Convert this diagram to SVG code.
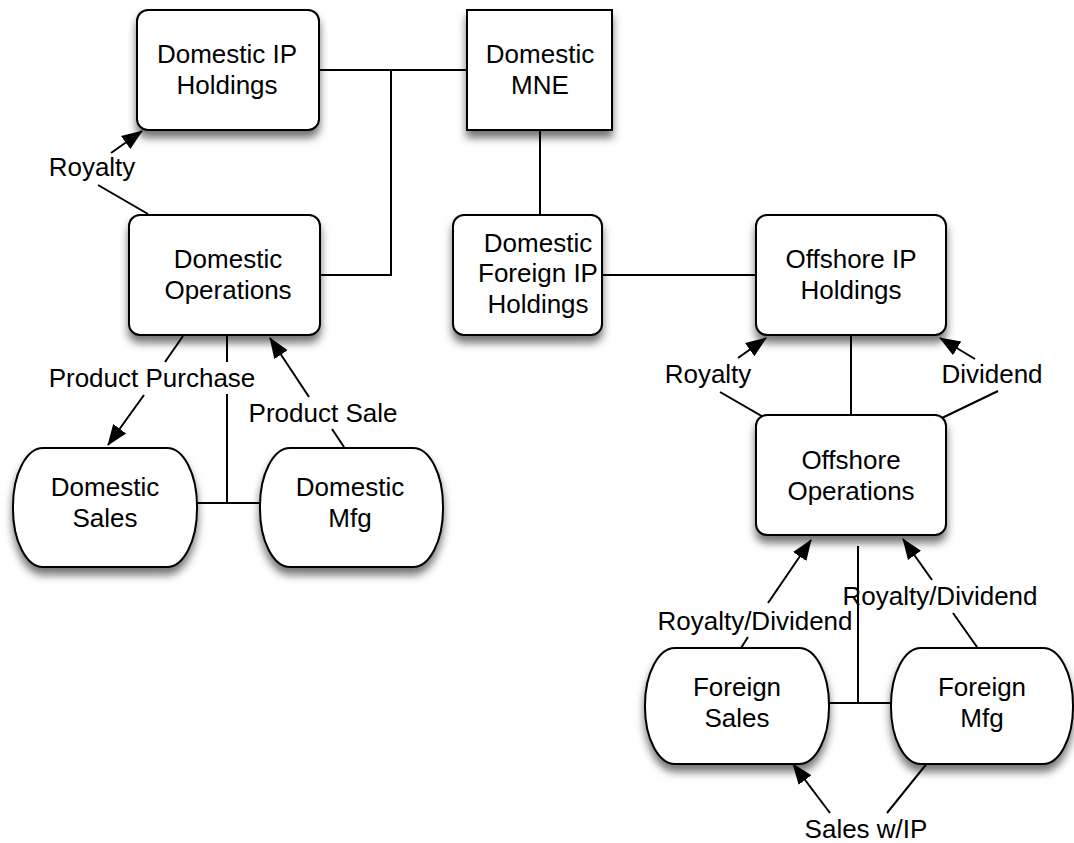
<svg xmlns="http://www.w3.org/2000/svg" width="1074" height="843" viewBox="0 0 1074 843">
  <style>
    .box { fill: #ffffff; stroke: #000000; stroke-width: 2; filter: url(#shadow); }
    .lbl { font-family: "Liberation Sans", Arial, sans-serif; font-size: 26px; fill: #000000; text-anchor: middle; }
    .wire { fill: none; stroke: #000000; stroke-width: 2; }
    .arrow { fill: none; stroke: #000000; stroke-width: 2; marker-end: url(#head); }
  </style>
  <defs>
    <filter id="shadow" x="-20%" y="-20%" width="140%" height="150%">
      <feDropShadow dx="0" dy="7" stdDeviation="4" flood-color="#000000" flood-opacity="0.55"/>
    </filter>
    <marker id="head" markerUnits="userSpaceOnUse" markerWidth="22" markerHeight="18" refX="20" refY="9" orient="auto">
      <path d="M0,1 L21,9 L0,17 Z" fill="#000000"/>
    </marker>
  </defs>
  <rect width="1074" height="843" fill="#ffffff"/>

  <!-- connectors -->
  <g id="connectors">
    <!-- ownership tree -->
    <path class="wire" d="M320,70 H467"/>
    <path class="wire" d="M391,70 V275 H320"/>
    <path class="wire" d="M540,130 V215"/>
    <path class="wire" d="M602,275 H756"/>
    <path class="wire" d="M851,335 V415"/>
    <path class="wire" d="M227,336 V362"/>
    <path class="wire" d="M227,394 V503"/>
    <path class="wire" d="M197,503 H260"/>
    <path class="wire" d="M858,546 V703"/>
    <path class="wire" d="M829,703 H891"/>

    <!-- domestic flows -->
    <path class="wire" d="M148,214 L98,185"/>
    <path class="arrow" d="M111,153 L142,131"/>
    <path class="wire" d="M183,336 L165,362"/>
    <path class="arrow" d="M144,395 L108,445"/>
    <path class="wire" d="M344,447 L332,429"/>
    <path class="arrow" d="M309,397 L270,338"/>

    <!-- offshore flows -->
    <path class="wire" d="M765,418 L720,392"/>
    <path class="arrow" d="M738,358 L766,338"/>
    <path class="wire" d="M942,418 L998,391"/>
    <path class="arrow" d="M975,359 L940,338"/>
    <path class="wire" d="M741,648 L748,637"/>
    <path class="arrow" d="M768,603 L811,540"/>
    <path class="wire" d="M977,647 L953,613"/>
    <path class="arrow" d="M932,580 L903,539"/>
    <path class="wire" d="M928,762 L887,813"/>
    <path class="arrow" d="M830,813 L793,764"/>
  </g>

  <!-- flow labels -->
  <g id="labels">
    <text class="lbl" x="92" y="176">Royalty</text>
    <text class="lbl" x="152" y="387">Product Purchase</text>
    <text class="lbl" x="323" y="422">Product Sale</text>
    <text class="lbl" x="708" y="383">Royalty</text>
    <text class="lbl" x="992" y="383">Dividend</text>
    <text class="lbl" x="755" y="630">Royalty/Dividend</text>
    <text class="lbl" x="940" y="605">Royalty/Dividend</text>
    <text class="lbl" x="866" y="838">Sales w/IP</text>
  </g>

  <g id="domestic-ip-holdings">
    <rect class="box" x="137" y="10" width="182" height="120" rx="11"/>
    <text class="lbl" x="227" y="63">Domestic IP</text>
    <text class="lbl" x="227" y="94">Holdings</text>
  </g>
  <g id="domestic-mne">
    <rect class="box" x="467" y="10" width="145" height="120"/>
    <text class="lbl" x="540" y="63">Domestic</text>
    <text class="lbl" x="540" y="94">MNE</text>
  </g>
  <g id="domestic-operations">
    <rect class="box" x="129" y="215" width="191" height="120" rx="11"/>
    <text class="lbl" x="228" y="268">Domestic</text>
    <text class="lbl" x="228" y="299">Operations</text>
  </g>
  <g id="domestic-foreign-ip-holdings">
    <rect class="box" x="453" y="215" width="149" height="120" rx="11"/>
    <text class="lbl" x="538" y="252">Domestic</text>
    <text class="lbl" x="538" y="282">Foreign IP</text>
    <text class="lbl" x="538" y="313">Holdings</text>
  </g>
  <g id="offshore-ip-holdings">
    <rect class="box" x="756" y="215" width="190" height="120" rx="11"/>
    <text class="lbl" x="851" y="268">Offshore IP</text>
    <text class="lbl" x="851" y="299">Holdings</text>
  </g>
  <g id="offshore-operations">
    <rect class="box" x="756" y="415" width="190" height="120" rx="11"/>
    <text class="lbl" x="851" y="469">Offshore</text>
    <text class="lbl" x="851" y="500">Operations</text>
  </g>
  <g id="domestic-sales">
    <rect class="box" x="13" y="448" width="184" height="119" rx="30" ry="58"/>
    <text class="lbl" x="105" y="496">Domestic</text>
    <text class="lbl" x="105" y="527">Sales</text>
  </g>
  <g id="domestic-mfg">
    <rect class="box" x="260" y="448" width="183" height="119" rx="30" ry="58"/>
    <text class="lbl" x="350" y="496">Domestic</text>
    <text class="lbl" x="350" y="527">Mfg</text>
  </g>
  <g id="foreign-sales">
    <rect class="box" x="645" y="648" width="184" height="116" rx="30" ry="57"/>
    <text class="lbl" x="737" y="696">Foreign</text>
    <text class="lbl" x="737" y="727">Sales</text>
  </g>
  <g id="foreign-mfg">
    <rect class="box" x="891" y="648" width="182" height="116" rx="30" ry="57"/>
    <text class="lbl" x="982" y="696">Foreign</text>
    <text class="lbl" x="982" y="727">Mfg</text>
  </g>
</svg>
